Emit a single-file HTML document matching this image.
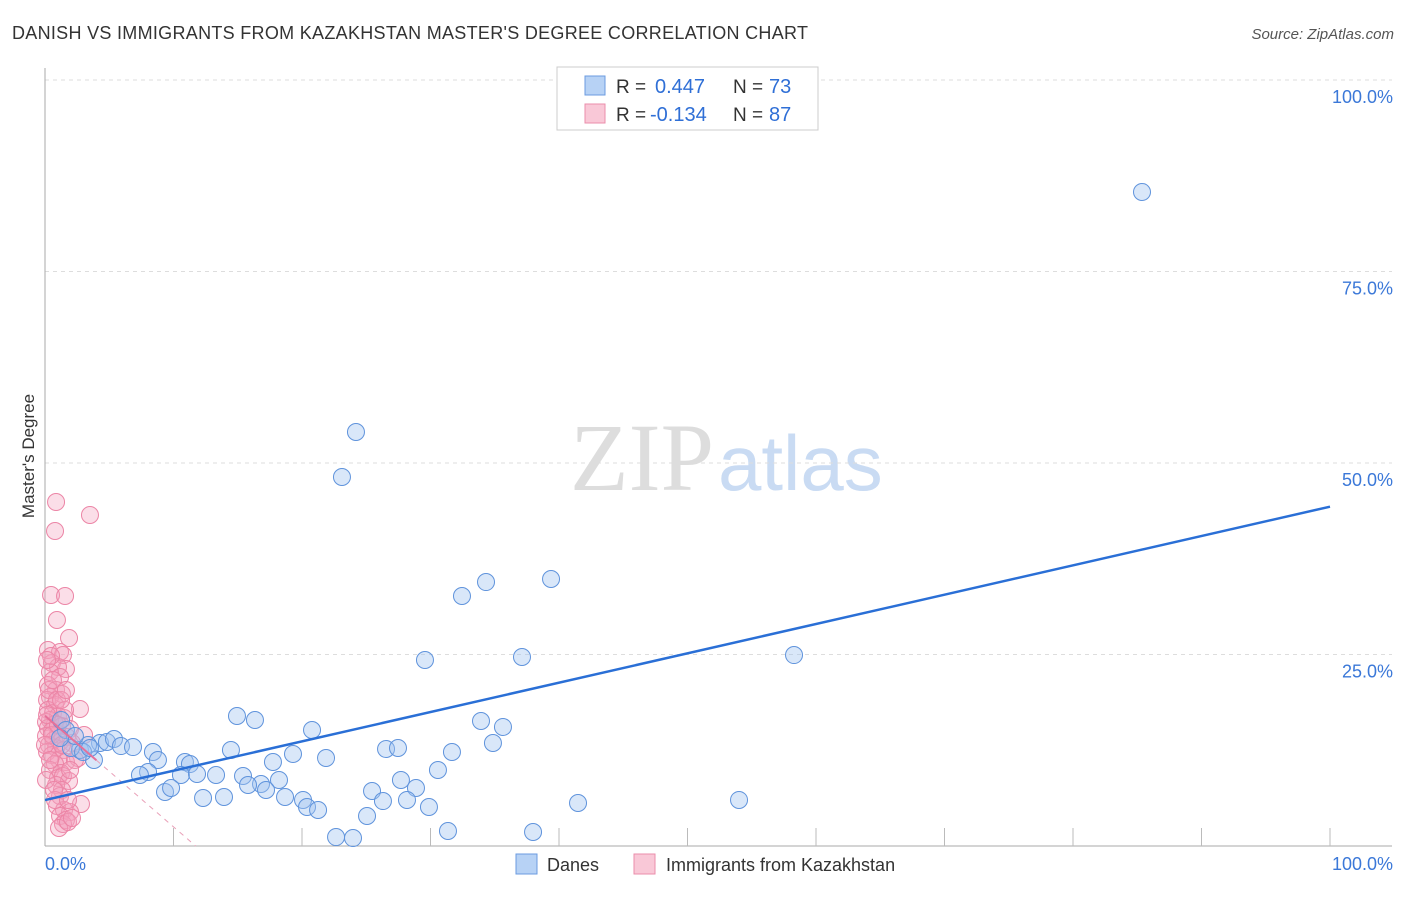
<!DOCTYPE html>
<html><head><meta charset="utf-8"><style>
body{margin:0;background:#fff;font-family:"Liberation Sans",sans-serif}
</style></head><body>
<svg id="chart" width="1406" height="892" xmlns="http://www.w3.org/2000/svg" font-family="Liberation Sans, sans-serif">
<text x="12" y="39" font-size="18" fill="#333" textLength="796">DANISH VS IMMIGRANTS FROM KAZAKHSTAN MASTER'S DEGREE CORRELATION CHART</text>
<text x="1394" y="39" font-size="15" fill="#555" font-style="italic" text-anchor="end">Source: ZipAtlas.com</text>
<text x="714" y="490" font-size="96" text-anchor="end" fill="#ddd" font-family="Liberation Serif, serif">ZIP</text>
<text x="718" y="490" font-size="78" fill="#c9dbf3">atlas</text>
<text transform="translate(34,456) rotate(-90)" font-size="17" fill="#333" text-anchor="middle">Master's Degree</text>
<g id="grid"></g><g id="pts"></g><g id="lines"></g>
<g>
<rect x="557" y="67" width="261" height="63" fill="#fff" stroke="#ccc"/>
<rect x="585" y="76" width="20" height="19" fill="#b7d2f5" stroke="#6b9be0"/>
<rect x="585" y="104" width="20" height="19" fill="#f9c8d7" stroke="#eb8eab"/>
<text x="616" y="93" font-size="19" fill="#333">R =</text><text x="655" y="93" font-size="20" fill="#2f6fd6">0.447</text>
<text x="733" y="93" font-size="19" fill="#333">N =</text><text x="769" y="93" font-size="20" fill="#2f6fd6">73</text>
<text x="616" y="121" font-size="19" fill="#333">R =</text><text x="650" y="121" font-size="20" fill="#2f6fd6">-0.134</text>
<text x="733" y="121" font-size="19" fill="#333">N =</text><text x="769" y="121" font-size="20" fill="#2f6fd6">87</text>
</g>
<g>
<rect x="516" y="854" width="21" height="20" fill="#b7d2f5" stroke="#6b9be0"/>
<text x="547" y="871" font-size="18" fill="#333">Danes</text>
<rect x="634" y="854" width="21" height="20" fill="#f9c8d7" stroke="#eb8eab"/>
<text x="666" y="871" font-size="18" fill="#333">Immigrants from Kazakhstan</text>
</g>
</svg>
<script>
const yTicks=[100,75,50,25];
const yTickLabels=["100.0%","75.0%","50.0%","25.0%"];
const xTickLabels=["0.0%","100.0%"];
const bluePx=[[1142,192],[356,432],[342,477],[551,579],[486,582],[462,596],[425,660],[522,657],[794,655],[237,716],[255,720],[481,721],[503,727],[312,730],[61,720],[100,743],[107,742],[114,739],[121,746],[133,747],[153,752],[158,760],[94,760],[80,750],[88,745],[185,762],[190,764],[231,750],[293,754],[326,758],[386,749],[398,748],[493,743],[452,752],[273,762],[148,772],[140,775],[181,775],[197,774],[216,775],[243,776],[261,784],[279,780],[248,785],[165,792],[171,788],[203,798],[224,797],[266,790],[285,797],[303,800],[307,807],[318,810],[372,791],[383,801],[401,780],[416,788],[407,800],[429,807],[438,770],[336,837],[353,838],[367,816],[448,831],[533,832],[578,803],[739,800],[71,748],[66,730],[75,736],[83,752],[60,738],[90,748]];
const pinkPx=[[56,502],[90,515],[55,531],[51,595],[65,596],[69,638],[48,650],[60,652],[63,655],[52,663],[66,669],[58,667],[50,672],[60,677],[48,685],[56,690],[62,694],[50,697],[47,700],[55,705],[80,709],[48,710],[53,713],[58,716],[64,718],[50,720],[46,722],[55,724],[62,726],[48,728],[70,729],[52,731],[58,734],[46,736],[67,737],[84,735],[54,740],[60,742],[49,745],[72,743],[56,748],[64,750],[47,752],[52,755],[78,758],[59,760],[66,762],[55,764],[50,770],[61,773],[58,778],[63,776],[69,781],[56,785],[62,790],[60,796],[81,804],[57,806],[64,810],[70,812],[60,816],[66,820],[63,824],[59,828],[68,822],[72,818],[55,800],[52,735],[47,715],[49,690],[53,680],[57,700],[45,745],[75,760],[70,770],[65,710],[58,725],[62,745],[50,760],[46,780],[68,800],[54,790],[61,700],[51,656],[57,620],[47,660],[66,690]];
const blueX=bluePx.map(p=>+((p[0]-45)/12.85).toFixed(2));
const blueY=bluePx.map(p=>+((846-p[1])/7.66).toFixed(2));
const pinkX=pinkPx.map(p=>+((p[0]-45)/12.85).toFixed(2));
const pinkY=pinkPx.map(p=>+((846-p[1])/7.66).toFixed(2));
const blueTrend=[6.0,44.3];
const pinkTrend=[17.0,-1.45];
const NS="http://www.w3.org/2000/svg";
const sx=v=>45+v*12.85, sy=v=>846-v*7.66;
function mk(t,a,p){const e=document.createElementNS(NS,t);for(const k in a)e.setAttribute(k,a[k]);p.appendChild(e);return e;}
const g=document.getElementById('grid');
yTicks.forEach((t,i)=>{
 const l=mk('line',{x1:45,x2:1392,y1:sy(t),y2:sy(t),stroke:'#ddd','stroke-dasharray':'4,4'},g);
 
 
 const tx=mk('text',{x:1393,y:sy(t)+23,'font-size':18,fill:'#3b78d8','text-anchor':'end'},g);
 tx.textContent=yTickLabels[i];
 
 
});
const ax=mk('line',{x1:45,x2:45,y1:68,y2:846,stroke:'#aaa'},g);


const bx=mk('line',{x1:45,x2:1392,y1:846,y2:846,stroke:'#aaa'},g);


for(let i=1;i<=10;i++){const t=mk('line',{x1:sx(i*10),x2:sx(i*10),y1:828,y2:846,stroke:'#bbb'},g);
 
 }
[[0,'start',45],[1,'end',1393]].forEach(([i,a,x])=>{const t=mk('text',{x:x,y:870,'font-size':18,fill:'#3b78d8','text-anchor':a},g);t.textContent=xTickLabels[i];
 
 });
const P=document.getElementById('pts');
pinkX.forEach((x,i)=>{const c=mk('circle',{cx:sx(x),cy:sy(pinkY[i]),r:8.5,fill:'rgba(244,160,188,0.35)',stroke:'#ec85a6','stroke-width':1},P);
 
 });
blueX.forEach((x,i)=>{const c=mk('circle',{cx:sx(x),cy:sy(blueY[i]),r:8.5,fill:'rgba(160,196,240,0.4)',stroke:'#5f93dc','stroke-width':1},P);
 
 });
const L=document.getElementById('lines');
const pe=-pinkTrend[0]/pinkTrend[1];
const pl=mk('line',{x1:sx(0),y1:sy(pinkTrend[0]),x2:sx(4),y2:sy(pinkTrend[0]+pinkTrend[1]*4),stroke:'#e5709a','stroke-width':2},L);


const pd=mk('line',{x1:sx(4),y1:sy(pinkTrend[0]+pinkTrend[1]*4),x2:sx(pe),y2:sy(0),stroke:'#e9a0b8','stroke-width':1,'stroke-dasharray':'5,5'},L);


const bl=mk('line',{x1:sx(0),y1:sy(blueTrend[0]),x2:sx(100),y2:sy(blueTrend[1]),stroke:'#2a6fd6','stroke-width':2.5},L);


</script>
</body></html>
